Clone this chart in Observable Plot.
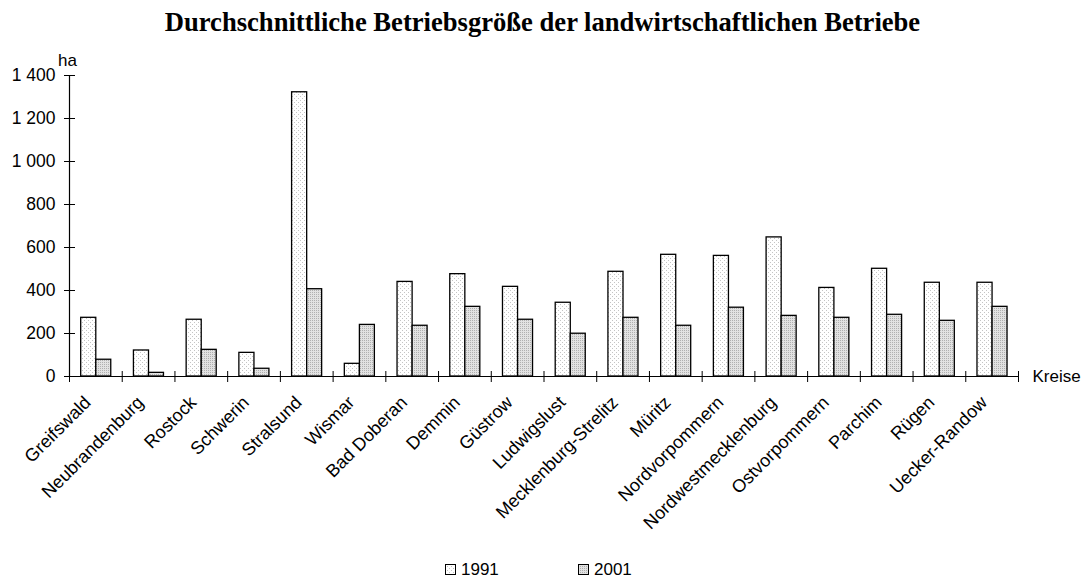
<!DOCTYPE html>
<html>
<head>
<meta charset="utf-8">
<script src="https://cdn.jsdelivr.net/npm/d3@7"></script>
<script src="https://cdn.jsdelivr.net/npm/@observablehq/plot@0.6"></script>
<style>
  html, body { margin: 0; padding: 0; background: #fff; }
  #wrap { position: relative; width: 1085px; height: 579px; }
  #title { position: absolute; left: 0; top: 0; width: 1085px; height: 44px; text-align: center;
    font-family: "Liberation Serif", "Times New Roman", serif; font-weight: bold; font-size: 26.6px;
    line-height: 26px; padding-top: 9px; box-sizing: border-box; color: #000; white-space: nowrap; }
  #chart { position: absolute; left: 0; top: 44px; }
  .leg { position: absolute; top: 562px; height: 16px; font-family: "Liberation Sans", Arial, sans-serif; font-size: 17px;
    line-height: 16px; color: #000; display: flex; align-items: center; white-space: nowrap; }
  .leg svg { margin-right: 4px; }
</style>
</head>
<body>
<svg width="0" height="0" style="position:absolute">
  <defs>
    <pattern id="p1991" width="4" height="4" patternUnits="userSpaceOnUse">
      <rect width="4" height="4" fill="#ffffff"/>
      <rect x="0" y="0" width="1" height="1" fill="#c4c4c4"/>
      <rect x="2" y="2" width="1" height="1" fill="#c4c4c4"/>
    </pattern>
    <pattern id="p2001" width="2" height="2" patternUnits="userSpaceOnUse">
      <rect width="2" height="2" fill="#e2e2e2"/>
      <rect x="0" y="0" width="1" height="1" fill="#b0b0b0"/>
    </pattern>
  </defs>
</svg>
<div id="wrap">
  <div id="title">Durchschnittliche Betriebsgröße der landwirtschaftlichen Betriebe</div>
  <div id="chart"></div>
  <div class="leg" style="left:445px"><svg width="12" height="12"><rect x="0.5" y="0.5" width="10" height="10" fill="url(#p1991)" stroke="#000" stroke-width="1"/></svg>1991</div>
  <div class="leg" style="left:578px"><svg width="12" height="12"><rect x="0.5" y="0.5" width="10" height="10" fill="url(#p2001)" stroke="#000" stroke-width="1"/></svg>2001</div>
</div>
<script>
// ---- data ----
const categories = ["Greifswald","Neubrandenburg","Rostock","Schwerin","Stralsund","Wismar","Bad Doberan","Demmin","Güstrow","Ludwigslust","Mecklenburg-Strelitz","Müritz","Nordvorpommern","Nordwestmecklenburg","Ostvorpommern","Parchim","Rügen","Uecker-Randow"];
const v1991 = [273,121,264,110,1322,59,440,476,417,343,487,566,561,647,412,501,436,436];
const v2001 = [78,17,124,36,406,240,236,324,264,199,273,236,320,282,273,287,259,324];
const years = ["1991","2001"];
const yTicks = [0,200,400,600,800,1000,1200,1400];
const yUnit = "ha";
const xUnit = "Kreise";

// ---- build table ----
const rows = [];
categories.forEach((c, i) => {
  rows.push({cat: c, i, year: years[0], value: v1991[i]});
  rows.push({cat: c, i, year: years[1], value: v2001[i]});
});
const off = {"1991": [0.222, 0.508], "2001": [0.508, 0.792]};
const n = categories.length;
const boundaries = d3.range(0, n + 1);
const fmt = d3.formatLocale({decimal: ",", thousands: " ", grouping: [3], currency: ["", "€"]}).format(",");

const font = "Liberation Sans, Arial, sans-serif";
const chart = Plot.plot({
  width: 1085,
  height: 500,
  marginLeft: 69,
  marginRight: 67,
  marginTop: 31,
  marginBottom: 168,
  style: {fontFamily: font, fontSize: "17px", background: "transparent", color: "#000"},
  x: {type: "linear", domain: [0, n], axis: null},
  y: {type: "linear", domain: [0, 1400], axis: null},
  marks: [
    Plot.rectY(rows, {
      x1: d => d.i + off[d.year][0],
      x2: d => d.i + off[d.year][1],
      y1: 0,
      y2: "value",
      fill: d => d.year === "1991" ? "url(#p1991)" : "url(#p2001)",
      stroke: "#000",
      strokeWidth: 1.3
    }),
    // y axis line and ticks
    Plot.ruleX([0], {y1: 0, y2: 1400, stroke: "#000", strokeWidth: 1.2}),
    Plot.ruleY(yTicks, {y: d => d, x1: 0, x2: 0, insetLeft: -5, insetRight: -6, stroke: "#000", strokeWidth: 1}),
    Plot.text(yTicks, {x: 0, y: d => d, text: d => fmt(d), textAnchor: "end", dx: -14, fontSize: 17.5}),
    Plot.text([yUnit], {x: 0, y: 1400, text: d => d, dy: -15, dx: -2, textAnchor: "middle", fontSize: 17}),
    // x axis line and ticks
    Plot.ruleY([0], {x1: 0, x2: n, stroke: "#000", strokeWidth: 1.2}),
    Plot.ruleX(boundaries, {x: d => d, y1: 0, y2: 0, insetTop: -5, insetBottom: -6, stroke: "#000", strokeWidth: 1}),
    Plot.text(categories, {x: (d, i) => i + 0.5, y: 0, text: d => d, rotate: -45, textAnchor: "end", lineAnchor: "middle", dx: -8, dy: 23, fontSize: 18}),
    Plot.text([xUnit], {x: n, y: 0, text: d => d, textAnchor: "start", lineAnchor: "middle", dx: 14, fontSize: 17})
  ]
});
document.getElementById("chart").appendChild(chart);
</script>
</body>
</html>
